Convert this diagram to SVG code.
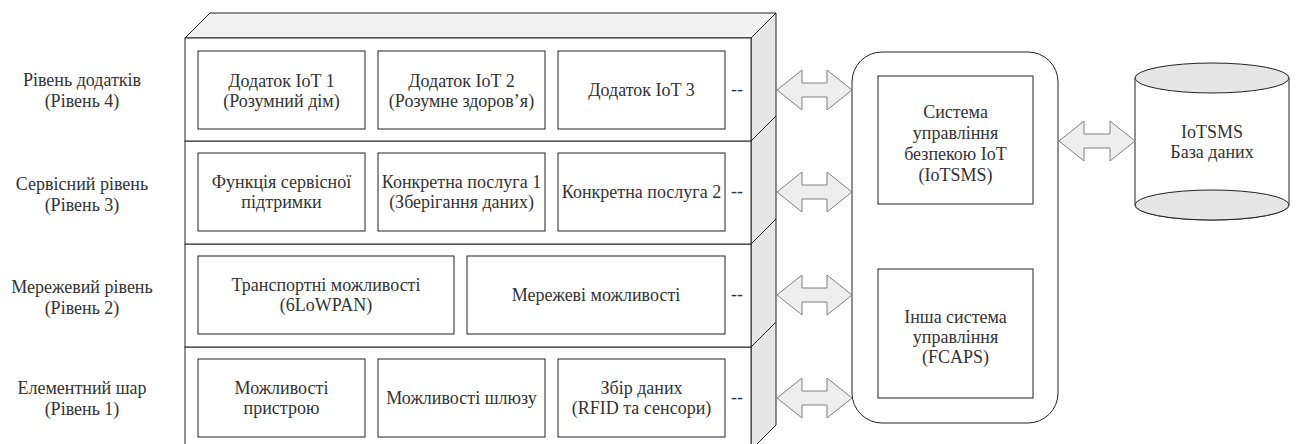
<svg xmlns="http://www.w3.org/2000/svg" width="1296" height="444" viewBox="0 0 1296 444">
<style>
text{font-family:'Liberation Serif','Times New Roman','DejaVu Serif',serif;font-size:18px;fill:#333;text-anchor:middle}
.front{fill:#fff;stroke:#222;stroke-width:1}
.top{fill:#f2f2f2;stroke:#222;stroke-width:1;stroke-linejoin:round}
.side{fill:#e6e6e6;stroke:#222;stroke-width:1;stroke-linejoin:round}
.box{fill:#fff;stroke:#222;stroke-width:1}
.arr{fill:#eeeeee;stroke:#808080;stroke-width:1;stroke-linejoin:miter}
.ell{fill:#e6e6e6;stroke:#222;stroke-width:1}
</style>
<rect width="1296" height="444" fill="#fff"/>

<g id="labels">
<text x="82" y="86">Рівень додатків</text>
<text x="82" y="107">(Рівень 4)</text>
<text x="82" y="190">Сервісний рівень</text>
<text x="82" y="211">(Рівень 3)</text>
<text x="82" y="293">Мережевий рівень</text>
<text x="82" y="314">(Рівень 2)</text>
<text x="82" y="394">Елементний шар</text>
<text x="82" y="415">(Рівень 1)</text>
</g>

<g id="layer-element">
<polygon class="top" points="185,347 210,322 776,322 751,347"/>
<polygon class="side" points="751,347 776,322 776,425 751,450"/>
<rect class="front" x="185" y="347" width="566" height="103"/>
<g id="device"><rect class="box" x="198" y="359" width="167" height="78"/><text x="281.5" y="394">Можливості</text><text x="281.5" y="414">пристрою</text></g>
<g id="gateway"><rect class="box" x="378" y="359" width="167" height="78"/><text x="461.5" y="404">Можливості шлюзу</text></g>
<g id="datacollect"><rect class="box" x="558" y="359" width="167" height="78"/><text x="641.5" y="394">Збір даних</text><text x="641.5" y="414">(RFID та сенсори)</text></g>
<text x="737" y="403">--</text>
</g>

<g id="layer-network">
<polygon class="top" points="185,244 210,219 776,219 751,244"/>
<polygon class="side" points="751,244 776,219 776,322 751,347"/>
<rect class="front" x="185" y="244" width="566" height="103"/>
<g id="transport"><rect class="box" x="198" y="256" width="256" height="78"/><text x="326" y="291">Транспортні можливості</text><text x="326" y="311">(6LoWPAN)</text></g>
<g id="netcap"><rect class="box" x="467" y="256" width="258" height="78"/><text x="596" y="301">Мережеві можливості</text></g>
<text x="737" y="300">--</text>
</g>

<g id="layer-service">
<polygon class="top" points="185,141 210,116 776,116 751,141"/>
<polygon class="side" points="751,141 776,116 776,219 751,244"/>
<rect class="front" x="185" y="141" width="566" height="103"/>
<g id="support"><rect class="box" x="198" y="153" width="167" height="78"/><text x="281.5" y="188">Функція сервісної</text><text x="281.5" y="208">підтримки</text></g>
<g id="service1"><rect class="box" x="378" y="153" width="167" height="78"/><text x="461.5" y="188">Конкретна послуга 1</text><text x="461.5" y="208">(Зберігання даних)</text></g>
<g id="service2"><rect class="box" x="558" y="153" width="167" height="78"/><text x="641.5" y="198">Конкретна послуга 2</text></g>
<text x="737" y="197">--</text>
</g>

<g id="layer-app">
<polygon class="top" points="185,38 210,13 776,13 751,38"/>
<polygon class="side" points="751,38 776,13 776,116 751,141"/>
<rect class="front" x="185" y="38" width="566" height="103"/>
<g id="app1"><rect class="box" x="198" y="51" width="167" height="78"/><text x="281.5" y="87">Додаток IoT 1</text><text x="281.5" y="107">(Розумний дім)</text></g>
<g id="app2"><rect class="box" x="378" y="51" width="167" height="78"/><text x="461.5" y="87">Додаток IoT 2</text><text x="461.5" y="107">(Розумне здоров’я)</text></g>
<g id="app3"><rect class="box" x="558" y="51" width="167" height="78"/><text x="641.5" y="96">Додаток IoT 3</text></g>
<text x="737" y="95">--</text>
</g>

<g id="management">
<rect class="box" x="852" y="52" width="206" height="371" rx="30" ry="30"/>
<g id="iotsms"><rect class="box" x="878" y="76" width="155" height="128"/>
<text x="955.5" y="118">Система</text><text x="955.5" y="139">управління</text><text x="955.5" y="160">безпекою IoT</text><text x="955.5" y="181">(IoTSMS)</text></g>
<g id="fcaps"><rect class="box" x="878" y="269" width="155" height="129"/>
<text x="955.5" y="323">Інша система</text><text x="955.5" y="343">управління</text><text x="955.5" y="363">(FCAPS)</text></g>
</g>

<g id="database">
<path d="M1135,78 L1135,205 A77,15 0 0 0 1289,205 L1289,78 Z" fill="#fff" stroke="#222"/>
<ellipse class="ell" cx="1212" cy="205" rx="77" ry="15"/>
<ellipse class="ell" cx="1212" cy="78" rx="77" ry="15"/>
<text x="1212" y="138">IoTSMS</text>
<text x="1212" y="158">База даних</text>
</g>

<g id="connectors">
<polygon class="arr" points="777,90 802,70 802,83 827,83 827,70 852,90 827,110 827,97 802,97 802,110"/>
<polygon class="arr" points="777,192 802,172 802,185 827,185 827,172 852,192 827,212 827,199 802,199 802,212"/>
<polygon class="arr" points="777,295 802,275 802,288 827,288 827,275 852,295 827,315 827,302 802,302 802,315"/>
<polygon class="arr" points="777,398 802,378 802,391 827,391 827,378 852,398 827,418 827,405 802,405 802,418"/>
<polygon class="arr" points="1059,141 1084,121 1084,134 1110,134 1110,121 1135,141 1110,161 1110,148 1084,148 1084,161"/>
</g>
</svg>
